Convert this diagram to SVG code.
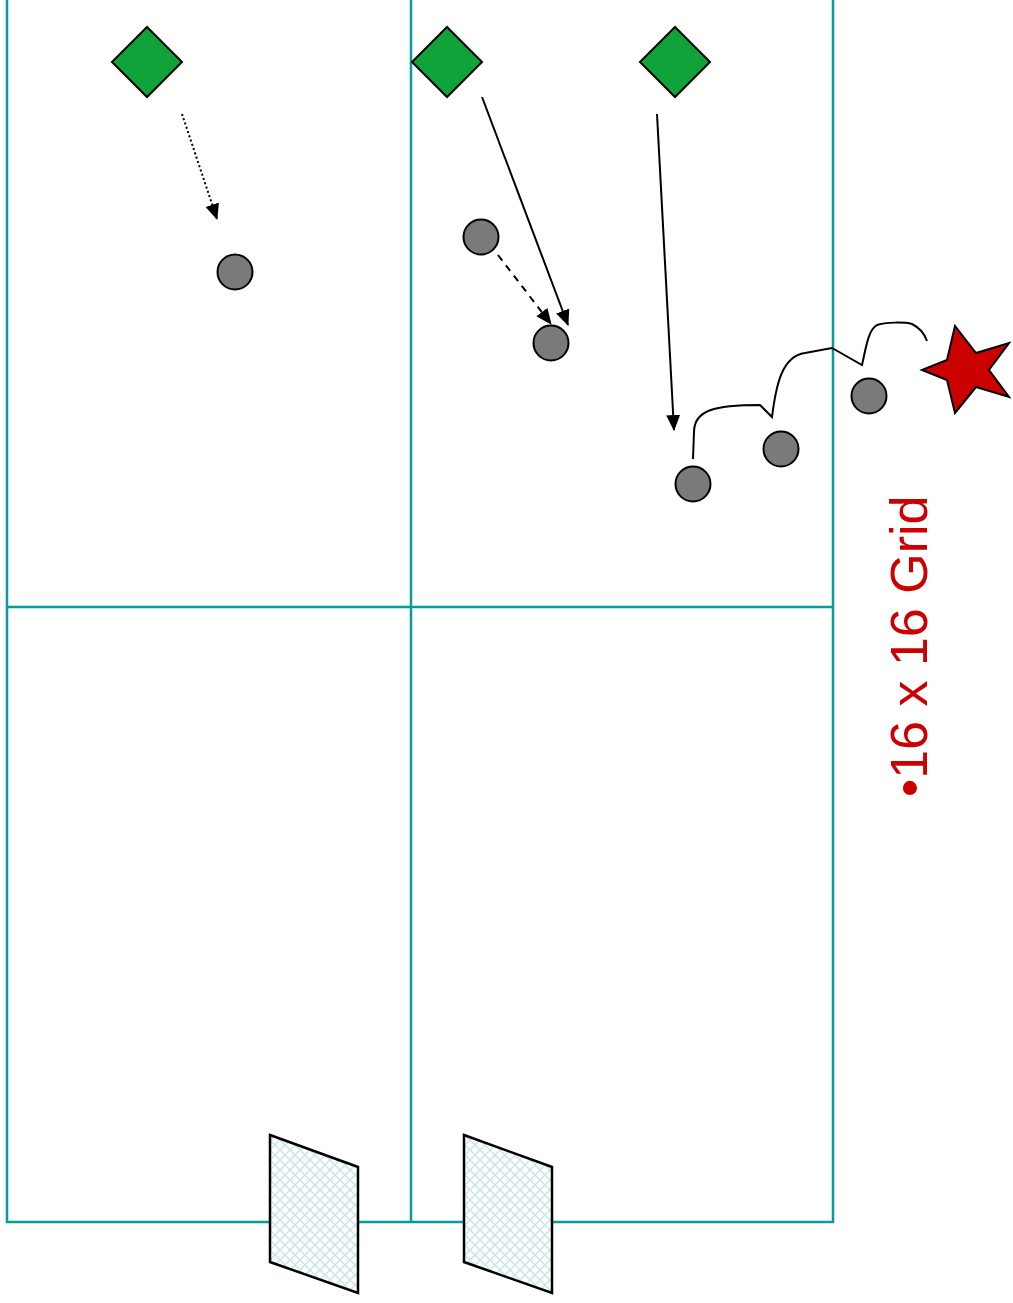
<svg xmlns="http://www.w3.org/2000/svg" width="1013" height="1303" viewBox="0 0 1013 1303">
<style>
.grid{stroke:#0A9A9A;stroke-width:2.5;fill:none}
.player{fill:#0FA33A;stroke:#000;stroke-width:2}
.ball{fill:#7A7A7A;stroke:#000;stroke-width:2}
.run{stroke:#000;stroke-width:2;fill:none}
.goal{fill:url(#hatch);stroke:#000;stroke-width:2.5}
</style>
<defs>
<marker id="ah" markerUnits="userSpaceOnUse" markerWidth="16" markerHeight="14" refX="15" refY="7" orient="auto">
<path d="M0,0 L16,7 L0,14 Z" fill="#000"/>
</marker>
<pattern id="hatch" patternUnits="userSpaceOnUse" width="10" height="10">
<rect width="10" height="10" fill="#fff"/>
<path d="M0,0 L10,10 M10,0 L0,10" stroke="#C8E6E6" stroke-width="1.5"/>
</pattern>
</defs>
<rect width="1013" height="1303" fill="#fff"/>
<g id="field">
<path class="grid" d="M7,-5 V1222 H833 V-5 M411,-5 V1222 M7,607 H833"/>
</g>
<g id="goal1"><polygon class="goal" points="270,1135 358,1167 358,1293 270,1262"/></g>
<g id="goal2"><polygon class="goal" points="464,1135 552,1167 552,1293 464,1262"/></g>
<g id="player1"><polygon class="player" points="147,27 182,62 147,97 112,62"/></g>
<g id="player2"><polygon class="player" points="447,27 482,62 447,97 412,62"/></g>
<g id="player3"><polygon class="player" points="675,27 710,62 675,97 640,62"/></g>
<g id="ball1"><circle class="ball" cx="235" cy="272" r="17.5"/></g>
<g id="ball2"><circle class="ball" cx="481" cy="237" r="17.5"/></g>
<g id="ball3"><circle class="ball" cx="551" cy="343" r="17.5"/></g>
<g id="ball4"><circle class="ball" cx="693" cy="484" r="17.5"/></g>
<g id="ball5"><circle class="ball" cx="781" cy="449" r="17.5"/></g>
<g id="ball6"><circle class="ball" cx="869" cy="396" r="17.5"/></g>
<g id="target"><polygon fill="#CC0000" stroke="#000" stroke-width="2" points="922,370 947,360 955,326 976,353 1009,343 989,370 1009,397 976,387 955,413 947,380"/></g>
<g id="connectors">
<line class="run" x1="182" y1="114" x2="217" y2="219" stroke-dasharray="2,2.5" marker-end="url(#ah)"/>
<line class="run" x1="482" y1="97" x2="568" y2="325" marker-end="url(#ah)"/>
<line class="run" x1="498" y1="255" x2="551" y2="324" stroke-dasharray="7,6" marker-end="url(#ah)"/>
<line class="run" x1="657" y1="114" x2="674" y2="430" marker-end="url(#ah)"/>
<path class="run" d="M693,459 L694,432 C694,410 715,405 760,405 L772,417 C776,385 782,356 805,353 L832,348 L862,365 C866,348 868,330 877,325 C885,322 905,322 912,324 C920,328 925,335 927,341"/>
</g>
<g id="label">
<text transform="translate(927,797) rotate(-90)" font-family="'Liberation Sans', Arial, sans-serif" font-size="52" fill="#CC0000">•16 x 16 Grid</text>
</g>
</svg>
